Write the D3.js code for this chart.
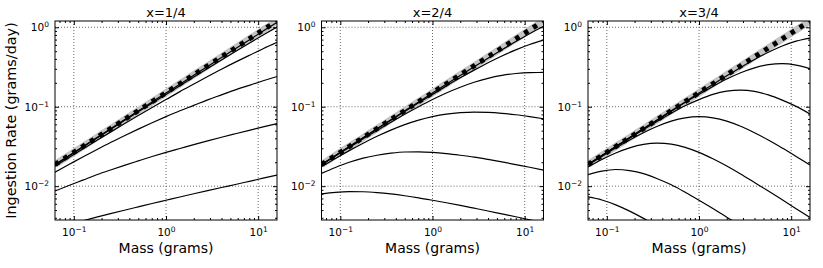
<!DOCTYPE html>
<html>
<head>
<meta charset="utf-8">
<script src="https://cdn.jsdelivr.net/npm/d3@7"></script>
<style>
    body { margin: 0; background: #fff; }
    text { font-family: "DejaVu Sans", sans-serif; fill: #000; }
</style>
</head>
<body>
<div id="chart"></div>
<script>
// masses sampled every factor sqrt(2), 1/16 .. 16 grams
var mass = [0.0625, 0.08839, 0.125, 0.1768, 0.25, 0.3536, 0.5, 0.7071, 1, 1.4142, 2, 2.8284, 4, 5.6569, 8, 11.314, 16];

var titles = ["x=1/4", "x=2/4", "x=3/4"];

// thick dotted upper bound (same in every panel)
var upperLimit = [0.01875, 0.02432, 0.03153, 0.04089, 0.05303, 0.06878, 0.08919, 0.1157, 0.15, 0.1945, 0.2523, 0.3272, 0.4243, 0.5502, 0.7135, 0.9253, 1.2];

// solid curves, top to bottom
var curvesX1 = [
    [0.0187, 0.0242, 0.0314, 0.0407, 0.0528, 0.0684, 0.0886, 0.115, 0.149, 0.192, 0.249, 0.322, 0.416, 0.537, 0.694, 0.895, 1.15],
    [0.0185, 0.0240, 0.0310, 0.0401, 0.0518, 0.0669, 0.0864, 0.111, 0.143, 0.184, 0.237, 0.303, 0.388, 0.495, 0.631, 0.800, 1.01],
    [0.0178, 0.0229, 0.0293, 0.0375, 0.0479, 0.0610, 0.0774, 0.0979, 0.123, 0.155, 0.193, 0.240, 0.297, 0.364, 0.443, 0.537, 0.645],
    [0.0150, 0.0187, 0.0233, 0.0288, 0.0354, 0.0431, 0.0522, 0.0628, 0.0750, 0.0889, 0.104, 0.122, 0.141, 0.163, 0.186, 0.212, 0.240],
    [0.00868, 0.0102, 0.0119, 0.0139, 0.0160, 0.0183, 0.0208, 0.0236, 0.0266, 0.0298, 0.0334, 0.0372, 0.0413, 0.0457, 0.0505, 0.0557, 0.0613],
    [0.00294, 0.00328, 0.00366, 0.00407, 0.00451, 0.00498, 0.00549, 0.00605, 0.00665, 0.00731, 0.00802, 0.00879, 0.00962, 0.0105, 0.0115, 0.0126, 0.0138]
];
var curvesX2 = [
    [0.0187, 0.0243, 0.0315, 0.0408, 0.0529, 0.0685, 0.0887, 0.115, 0.149, 0.192, 0.247, 0.318, 0.408, 0.521, 0.661, 0.831, 1.03],
    [0.0187, 0.0242, 0.0313, 0.0406, 0.0524, 0.0677, 0.0872, 0.112, 0.143, 0.183, 0.231, 0.289, 0.358, 0.436, 0.520, 0.607, 0.689],
    [0.0185, 0.0239, 0.0307, 0.0394, 0.0503, 0.0639, 0.0805, 0.100, 0.123, 0.149, 0.176, 0.203, 0.228, 0.248, 0.262, 0.269, 0.270],
    [0.0176, 0.0223, 0.0280, 0.0347, 0.0424, 0.0508, 0.0595, 0.0678, 0.0750, 0.0806, 0.0841, 0.0855, 0.0849, 0.0827, 0.0793, 0.0751, 0.0706],
    [0.0145, 0.0172, 0.0200, 0.0225, 0.0245, 0.0260, 0.0269, 0.0270, 0.0266, 0.0257, 0.0245, 0.0232, 0.0217, 0.0202, 0.0187, 0.0173, 0.0159],
    [0.00799, 0.00837, 0.00854, 0.00850, 0.00830, 0.00798, 0.00758, 0.00713, 0.00665, 0.00618, 0.00572, 0.00528, 0.00487, 0.00448, 0.00412, 0.00378, 0.00347]
];
var curvesX3 = [
    [0.0187, 0.0243, 0.0315, 0.0409, 0.0530, 0.0686, 0.0889, 0.115, 0.149, 0.191, 0.245, 0.312, 0.393, 0.485, 0.582, 0.670, 0.732],
    [0.0187, 0.0243, 0.0315, 0.0407, 0.0527, 0.0681, 0.0878, 0.113, 0.143, 0.180, 0.223, 0.268, 0.309, 0.339, 0.348, 0.334, 0.302],
    [0.0187, 0.0242, 0.0312, 0.0402, 0.0516, 0.0658, 0.0829, 0.103, 0.123, 0.143, 0.157, 0.162, 0.156, 0.141, 0.121, 0.101, 0.0811],
    [0.0185, 0.0237, 0.0302, 0.0381, 0.0471, 0.0568, 0.0659, 0.0725, 0.0750, 0.0725, 0.0659, 0.0568, 0.0471, 0.0381, 0.0302, 0.0237, 0.0185],
    [0.0175, 0.0217, 0.0262, 0.0304, 0.0336, 0.0348, 0.0338, 0.0308, 0.0266, 0.0221, 0.0179, 0.0142, 0.0111, 0.00867, 0.00673, 0.00521, 0.00403],
    [0.0140, 0.0155, 0.0162, 0.0157, 0.0144, 0.0124, 0.0104, 0.00838, 0.00665, 0.00523, 0.00407, 0.00316, 0.00245, 0.00189, 0.00146, 0.00113, 0.00087],
    [0.00732, 0.00670, 0.00582, 0.00485, 0.00393, 0.00312, 0.00245, 0.00191, 0.00149, 0.00115, 0.000889, 0.000686, 0.00053, 0.000409, 0.000315, 0.000243, 0.000187]
];

var xMajor = [0.1, 1, 10];
var yMajor = [0.01, 0.1, 1];

function main() {

    var width = 222, height = 199;
    var panelLeft = [55, 321.5, 588], panelTop = 21;
    var panels = [curvesX1, curvesX2, curvesX3];

    var svg = d3.select("#chart")
        .append("svg")
        .attr("width", 823)
        .attr("height", 268);

    svg.append("clipPath")
        .attr("id", "plotclip")
        .append("rect")
        .attr("width", width)
        .attr("height", height);

    var x = d3.scaleLog().domain([1 / 16, 16]).range([0, width]);
    var y = d3.scaleLog().domain([0.00375, 1.2]).range([height, 0]);

    var xMinor = x.ticks().filter(function (v) { return xMajor.indexOf(v) < 0; });
    var yMinor = y.ticks().filter(function (v) { return yMajor.indexOf(v) < 0; });

    var line = d3.line()
        .x(function (d, i) { return x(mass[i]); })
        .y(function (d) { return y(d); })
        .curve(d3.curveMonotoneX);

    // "10" with a superscript exponent
    function powerLabel(sel) {
        sel.each(function (d) {
            var t = d3.select(this);
            var e = Math.round(Math.log10(d));
            t.text("10");
            t.append("tspan")
                .attr("dy", "-0.5em")
                .style("font-size", "7.5px")
                .text(e < 0 ? "\u2212" + (-e) : e);
        });
    }

    function cleanAxis(g) {
        g.select(".domain").remove();
        g.selectAll(".tick line").attr("stroke", "#000").attr("stroke-width", 1);
    }

    panels.forEach(function (curves, p) {
        var g = svg.append("g")
            .attr("transform", "translate(" + panelLeft[p] + "," + panelTop + ")");

        // dotted grid at the decades
        g.append("g").selectAll("line")
            .data(xMajor)
            .enter().append("line")
            .attr("x1", function (d) { return x(d); })
            .attr("x2", function (d) { return x(d); })
            .attr("y1", 0).attr("y2", height)
            .attr("stroke", "#444").attr("stroke-width", 0.8)
            .attr("stroke-dasharray", "1,2");
        g.append("g").selectAll("line")
            .data(yMajor)
            .enter().append("line")
            .attr("y1", function (d) { return y(d); })
            .attr("y2", function (d) { return y(d); })
            .attr("x1", 0).attr("x2", width)
            .attr("stroke", "#444").attr("stroke-width", 0.8)
            .attr("stroke-dasharray", "1,2");

        var plot = g.append("g").attr("clip-path", "url(#plotclip)");

        // grey band under the dotted bound
        plot.append("path")
            .datum(upperLimit)
            .attr("d", line)
            .attr("fill", "none")
            .attr("stroke", "#c4c4c4")
            .attr("stroke-width", 7);

        plot.selectAll(".curve")
            .data(curves)
            .enter().append("path")
            .attr("class", "curve")
            .attr("d", line)
            .attr("fill", "none")
            .attr("stroke", "#000")
            .attr("stroke-width", 1.2);

        plot.append("path")
            .datum(upperLimit)
            .attr("d", line)
            .attr("fill", "none")
            .attr("stroke", "#000")
            .attr("stroke-width", 5)
            .attr("stroke-dasharray", "4.5,6");

        // ticks pointing inwards on all four sides
        g.append("g")
            .attr("transform", "translate(0," + height + ")")
            .call(d3.axisBottom(x).tickValues(xMajor).tickSize(-4).tickSizeOuter(0).tickPadding(8.5))
            .call(cleanAxis)
            .selectAll(".tick text")
            .style("font-size", "10.5px")
            .call(powerLabel);
        g.append("g")
            .attr("transform", "translate(0," + height + ")")
            .call(d3.axisBottom(x).tickValues(xMinor).tickSize(-2).tickSizeOuter(0).tickFormat(""))
            .call(cleanAxis);
        g.append("g")
            .call(d3.axisTop(x).tickValues(xMajor).tickSize(-4).tickSizeOuter(0).tickFormat(""))
            .call(cleanAxis);
        g.append("g")
            .call(d3.axisTop(x).tickValues(xMinor).tickSize(-2).tickSizeOuter(0).tickFormat(""))
            .call(cleanAxis);

        g.append("g")
            .call(d3.axisLeft(y).tickValues(yMajor).tickSize(-4).tickSizeOuter(0).tickPadding(6))
            .call(cleanAxis)
            .selectAll(".tick text")
            .style("font-size", "10.5px")
            .call(powerLabel);
        g.append("g")
            .call(d3.axisLeft(y).tickValues(yMinor).tickSize(-2).tickSizeOuter(0).tickFormat(""))
            .call(cleanAxis);
        g.append("g")
            .attr("transform", "translate(" + width + ",0)")
            .call(d3.axisRight(y).tickValues(yMajor).tickSize(-4).tickSizeOuter(0).tickFormat(""))
            .call(cleanAxis);
        g.append("g")
            .attr("transform", "translate(" + width + ",0)")
            .call(d3.axisRight(y).tickValues(yMinor).tickSize(-2).tickSizeOuter(0).tickFormat(""))
            .call(cleanAxis);

        // frame
        g.append("rect")
            .attr("width", width)
            .attr("height", height)
            .attr("fill", "none")
            .attr("stroke", "#000")
            .attr("stroke-width", 1);

        // title and x label
        g.append("text")
            .attr("x", width / 2)
            .attr("y", -4)
            .attr("text-anchor", "middle")
            .style("font-size", "13px")
            .text(titles[p]);

        g.append("text")
            .attr("x", width / 2)
            .attr("y", height + 33)
            .attr("text-anchor", "middle")
            .style("font-size", "14px")
            .text("Mass (grams)");
    });

    svg.append("text")
        .attr("transform", "translate(16," + (panelTop + height / 2) + ") rotate(-90)")
        .attr("text-anchor", "middle")
        .style("font-size", "14.4px")
        .text("Ingestion Rate (grams/day)");
}

window.addEventListener('load', main);
</script>
</body>
</html>
